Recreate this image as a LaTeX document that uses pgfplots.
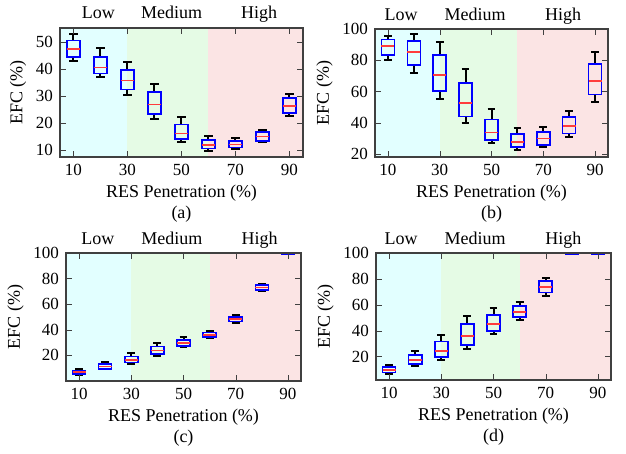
\documentclass[border=0pt]{standalone}
\usepackage{fontspec}
\setmainfont{Liberation Serif}
\usepackage{pgfplots}
\pgfplotsset{compat=1.18}
\usepgfplotslibrary{statistics}

\definecolor{lowc}{RGB}{226,255,255}
\definecolor{medc}{RGB}{229,251,229}
\definecolor{highc}{RGB}{251,228,228}
\definecolor{medline}{RGB}{255,60,60}

% one box: position, lower whisker, lower quartile, median, upper quartile, upper whisker
\newcommand{\bx}[6]{\addplot[boxplot prepared={draw position=#1,
  lower whisker=#2, lower quartile=#3, median=#4,
  upper quartile=#5, upper whisker=#6}] coordinates {};}

% shaded Low / Medium / High regions
\newcommand{\bands}[2]{%
  \addplot[fill=lowc, draw=none, forget plot] coordinates {(0.5,#1) (3,#1) (3,#2) (0.5,#2)} -- cycle;
  \addplot[fill=medc, draw=none, forget plot] coordinates {(3,#1) (6,#1) (6,#2) (3,#2)} -- cycle;
  \addplot[fill=highc, draw=none, forget plot] coordinates {(6,#1) (9.5,#1) (9.5,#2) (6,#2)} -- cycle;}

\pgfplotsset{
  efc/.style={
    scale only axis, anchor=south west,
    xmin=0.5, xmax=9.5,
    xtick={1,3,5,7,9}, xticklabels={10,30,50,70,90},
    tick align=inside, axis on top,
    axis line style={draw=black!75, line width=0.6pt},
    major tick length=3pt,
    tick style={black!75},
    ylabel={EFC (\%)},
    xlabel style={align=center, yshift=2pt},
    ylabel style={yshift=-2pt},
    tick label style={font=\fontsize{8.5}{10}\selectfont},
    label style={font=\fontsize{9}{10.5}\selectfont},
    /pgf/number format/assume math mode=true,
    clip mode=individual,
    boxplot/draw direction=y,
    boxplot/box extend=0.5,
    boxplot/whisker extend=0.3,
    boxplot/every box/.style={draw=blue, line width=0.8pt},
    boxplot/every median/.style={draw=medline, line width=0.8pt},
    boxplot/every whisker/.style={draw=black, line width=1pt},
  },
}

\newcommand{\regions}[3]{%
  \node[font=\fontsize{9}{10}\selectfont, anchor=base] at (rel axis cs:#1,1.07) {Low};
  \node[font=\fontsize{9}{10}\selectfont, anchor=base] at (rel axis cs:#2,1.07) {Medium};
  \node[font=\fontsize{9}{10}\selectfont, anchor=base] at (rel axis cs:#3,1.07) {High};}

\begin{document}
\begin{tikzpicture}
\path[use as bounding box] (0,0) rectangle (313pt,227pt);

% (a)
\begin{axis}[efc, at={(30pt,148.5pt)}, width=121.5pt, height=64.5pt,
  ymin=7.5, ymax=55.3, ytick={10,20,30,40,50},
  xlabel={RES Penetration (\%)\\(a)}]
\bands{0}{60}
\bx{1}{43.2}{44.6}{47.5}{50.7}{53.1}
\bx{2}{37.2}{38.4}{40.7}{44.6}{47.9}
\bx{3}{30.4}{32.5}{35.9}{39.8}{42.7}
\bx{4}{21.7}{23.5}{26.9}{31.5}{34.7}
\bx{5}{13.1}{14.2}{16.2}{19.6}{22.3}
\bx{6}{9.9}{10.6}{12.0}{13.7}{15.2}
\bx{7}{10.4}{11.0}{12.1}{13.5}{14.6}
\bx{8}{13.0}{13.5}{15.1}{16.8}{17.5}
\bx{9}{22.6}{23.7}{26.3}{29.4}{31.0}
\regions{0.158}{0.459}{0.819}
\end{axis}

% (b)
\begin{axis}[efc, at={(187.5pt,148.5pt)}, width=116.5pt, height=64pt,
  ymin=18.3, ymax=100, ytick={20,40,60,80,100},
  xlabel={RES Penetration (\%)\\(b)}]
\bands{0}{110}
\bx{1}{80.3}{83.5}{89.1}{93.2}{95.3}
\bx{2}{72.2}{76.9}{85.2}{92.3}{96.6}
\bx{3}{55.3}{60.4}{70.7}{83.5}{91.4}
\bx{4}{40.1}{44.2}{52.7}{65.6}{74.3}
\bx{5}{27.1}{29.2}{33.9}{42.2}{48.7}
\bx{6}{22.6}{24.5}{27.9}{32.8}{36.5}
\bx{7}{24.5}{26.0}{30.1}{34.3}{37.5}
\bx{8}{31.1}{33.3}{38.0}{44.0}{47.4}
\bx{9}{53.6}{58.1}{66.8}{77.8}{85.0}
\regions{0.112}{0.43}{0.807}
\end{axis}

% (c)
\begin{axis}[efc, at={(33pt,36.5pt)}, width=117.5pt, height=64pt,
  ymin=0, ymax=100, ytick={20,40,60,80,100},
  xlabel={RES Penetration (\%)\\(c)}]
\bands{-5}{110}
\bx{1}{4.7}{5.5}{6.8}{8.1}{9.4}
\bx{2}{9.1}{9.6}{11.4}{13.2}{15.1}
\bx{3}{13.2}{14.3}{16.6}{19.2}{21.6}
\bx{4}{19.7}{21.0}{23.9}{27.0}{29.4}
\bx{5}{26.5}{27.5}{29.9}{31.9}{34.0}
\bx{6}{33.5}{34.3}{36.1}{37.9}{39.0}
\bx{7}{45.7}{46.5}{48.3}{50.1}{51.2}
\bx{8}{70.1}{71.2}{73.0}{74.8}{75.8}
\bx{9}{99.2}{99.2}{99.6}{100}{100}
\regions{0.136}{0.451}{0.824}
\end{axis}

% (d)
\begin{axis}[efc, at={(188pt,37pt)}, width=117.5pt, height=63.5pt,
  ymin=2, ymax=100, ytick={20,40,60,80,100},
  xlabel={RES Penetration (\%)\\(d)}]
\bands{-5}{110}
\bx{1}{6.9}{7.9}{9.7}{12.1}{13.6}
\bx{2}{12.6}{14.4}{17.4}{21.5}{24.1}
\bx{3}{17.4}{19.7}{24.6}{31.8}{36.7}
\bx{4}{25.9}{29.2}{35.9}{45.1}{51.3}
\bx{5}{37.2}{39.7}{45.1}{52.1}{57.2}
\bx{6}{48.2}{50.5}{54.4}{59.0}{62.1}
\bx{7}{66.9}{69.5}{73.6}{78.2}{81.0}
\bx{8}{99.2}{99.2}{99.6}{100}{100}
\bx{9}{99.2}{99.2}{99.6}{100}{100}
\regions{0.107}{0.422}{0.797}
\end{axis}
\end{tikzpicture}
\end{document}
